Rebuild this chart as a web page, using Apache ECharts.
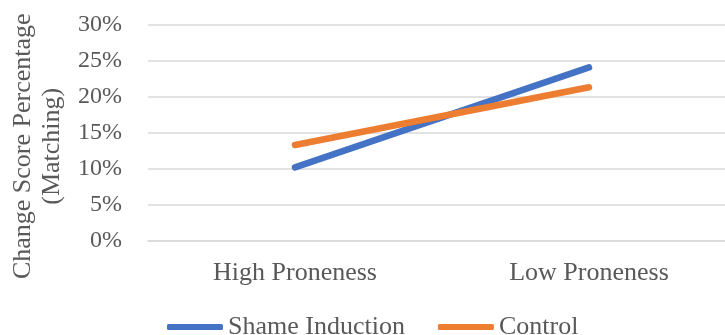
<!DOCTYPE html>
<html>
<head>
<meta charset="utf-8">
<script src="https://cdn.jsdelivr.net/npm/echarts@6/dist/echarts.min.js"></script>
<style>
  html, body { margin: 0; padding: 0; background: #fff; }
  #chart { width: 725px; height: 335px; }
</style>
</head>
<body>
<div id="chart"></div>
<script>
// Change score percentage by shame proneness
const categories = ['High Proneness', 'Low Proneness'];
const shameInduction = [10.2, 24.05];
const control = [13.3, 21.3];
const yTicks = { min: 0, max: 30, step: 5 };

const FONT = '"Liberation Serif", "Times New Roman", serif';
const TEXT = '#595959';

const chart = echarts.init(document.getElementById('chart'));
chart.setOption({
  animation: false,
  grid: {
    left: 148, top: 24.5, width: 588, height: 216.5,
    containLabel: false, outerBoundsMode: 'none'
  },
  legend: {
    data: ['Shame Induction', 'Control'],
    left: 167,
    top: 314,
    padding: 0,
    icon: 'roundRect',
    itemWidth: 56,
    itemHeight: 6,
    itemGap: 33,
    textStyle: { fontFamily: FONT, fontSize: 26, color: TEXT }
  },
  xAxis: {
    type: 'category',
    data: categories,
    boundaryGap: true,
    axisTick: { show: false },
    axisLine: { lineStyle: { color: '#d9d9d9', width: 1.5 } },
    axisLabel: { fontFamily: FONT, fontSize: 26, color: TEXT, margin: 19 }
  },
  yAxis: {
    type: 'value',
    min: yTicks.min,
    max: yTicks.max,
    interval: yTicks.step,
    name: 'Change Score Percentage\n(Matching)',
    nameLocation: 'middle',
    nameRotate: 90,
    nameGap: 81,
    nameTextStyle: {
      fontFamily: FONT, fontSize: 26, color: TEXT, lineHeight: 29,
      padding: [0, 27, 0, 0]
    },
    axisLine: { show: false },
    axisTick: { show: false },
    axisLabel: { formatter: '{value}%', fontFamily: FONT, fontSize: 24, color: TEXT, margin: 26 },
    splitLine: { lineStyle: { color: '#d9d9d9', width: 1.5 } }
  },
  series: [
    {
      name: 'Shame Induction',
      type: 'line',
      data: shameInduction,
      symbol: 'none',
      itemStyle: { color: '#4472C4' },
      lineStyle: { color: '#4472C4', width: 6.5, cap: 'round' }
    },
    {
      name: 'Control',
      type: 'line',
      data: control,
      symbol: 'none',
      itemStyle: { color: '#ED7D31' },
      lineStyle: { color: '#ED7D31', width: 6.5, cap: 'round' }
    }
  ]
});
</script>
</body>
</html>
